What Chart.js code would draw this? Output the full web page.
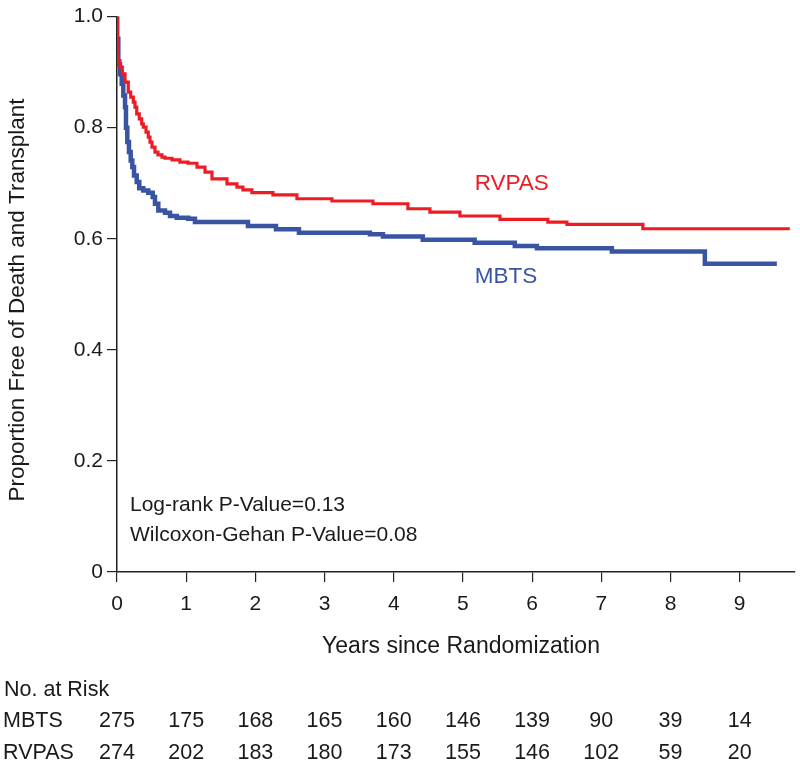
<!DOCTYPE html>
<html>
<head>
<meta charset="utf-8">
<script src="https://cdn.jsdelivr.net/npm/chart.js@4.4.1/dist/chart.umd.min.js"></script>
<style>
  body { margin: 0; background: #fff; }
  #wrap { width: 800px; height: 767px; }
</style>
</head>
<body>
<div id="wrap"><canvas id="km" width="800" height="767"></canvas></div>
<script>
// Kaplan-Meier estimates (time in years, proportion free)
const rvpasTime = [0, 0.004, 0.043, 0.077, 0.116, 0.163, 0.198, 0.236, 0.26, 0.285, 0.322, 0.357, 0.38, 0.419, 0.452, 0.477, 0.506, 0.549, 0.592, 0.65, 0.694, 0.795, 0.91, 1.026, 1.156, 1.272, 1.373, 1.59, 1.734, 1.82, 1.95, 2.254, 2.601, 3.107, 3.70, 4.205, 4.523, 4.957, 5.535, 6.228, 6.503, 7.601, 9.725];
const rvpasSurv = [1.0, 0.921, 0.909, 0.897, 0.882, 0.864, 0.855, 0.846, 0.837, 0.825, 0.816, 0.807, 0.801, 0.792, 0.783, 0.774, 0.765, 0.756, 0.751, 0.747, 0.745, 0.742, 0.738, 0.736, 0.729, 0.72, 0.708, 0.699, 0.693, 0.688, 0.683, 0.679, 0.672, 0.668, 0.663, 0.654, 0.648, 0.641, 0.635, 0.630, 0.626, 0.618, 0.618];

const mbtsTime = [0, 0.003, 0.019, 0.043, 0.068, 0.091, 0.116, 0.13, 0.149, 0.173, 0.198, 0.221, 0.246, 0.285, 0.322, 0.38, 0.452, 0.516, 0.549, 0.597, 0.694, 0.766, 0.863, 1.03, 1.127, 1.893, 2.298, 2.63, 3.656, 3.844, 4.42, 5.17, 5.75, 6.069, 7.153, 8.497, 9.538];
const mbtsSurv = [1.0, 0.96, 0.914, 0.896, 0.879, 0.858, 0.837, 0.80, 0.774, 0.756, 0.741, 0.729, 0.714, 0.702, 0.691, 0.687, 0.683, 0.675, 0.663, 0.651, 0.647, 0.641, 0.638, 0.636, 0.630, 0.623, 0.617, 0.611, 0.608, 0.604, 0.598, 0.593, 0.587, 0.583, 0.577, 0.555, 0.555];

const xTicks = [0, 1, 2, 3, 4, 5, 6, 7, 8, 9];
const yTicks = [0, 0.2, 0.4, 0.6, 0.8, 1.0];

const riskGroups = ['MBTS', 'RVPAS'];
const mbtsRisk = [275, 175, 168, 165, 160, 146, 139, 90, 39, 14];
const rvpasRisk = [274, 202, 183, 180, 173, 155, 146, 102, 59, 20];

const pValueLines = ['Log-rank P-Value=0.13', 'Wilcoxon-Gehan P-Value=0.08'];

const RED = '#ed1c24';
const BLUE = '#3a54a4';
const INK = '#1a1a1a';
const FONT = '"Liberation Sans", Arial, sans-serif';

function toPoints(ts, ss) {
  return ts.map((t, i) => ({ x: t, y: ss[i] }));
}

// extra text: axis titles, p-values, curve labels, numbers at risk
const annotations = {
  id: 'annotations',
  afterDraw(chart) {
    const { ctx, chartArea, scales } = chart;
    const xs = scales.x, ys = scales.y;
    ctx.save();
    ctx.fillStyle = INK;
    ctx.textBaseline = 'middle';

    // y title
    ctx.save();
    ctx.translate(18, 300);
    ctx.rotate(-Math.PI / 2);
    ctx.textAlign = 'center';
    ctx.font = '22.5px ' + FONT;
    ctx.fillText('Proportion Free of Death and Transplant', 0, 0);
    ctx.restore();

    // x title
    ctx.textAlign = 'center';
    ctx.font = '23px ' + FONT;
    ctx.fillText('Years since Randomization', 461, 647);

    // p-values
    ctx.textAlign = 'left';
    ctx.font = '21px ' + FONT;
    pValueLines.forEach((s, i) => ctx.fillText(s, chartArea.left + 13, 505 + i * 30));

    // curve labels
    ctx.font = '22.5px ' + FONT;
    ctx.fillStyle = RED;
    ctx.fillText('RVPAS', xs.getPixelForValue(5.17), ys.getPixelForValue(0.699));
    ctx.fillStyle = BLUE;
    ctx.fillText('MBTS', xs.getPixelForValue(5.17), ys.getPixelForValue(0.532));

    // risk table
    ctx.fillStyle = INK;
    ctx.font = '21.5px ' + FONT;
    ctx.fillText('No. at Risk', 4, 690);
    [mbtsRisk, rvpasRisk].forEach((row, r) => {
      const y = 721 + r * 32;
      ctx.textAlign = 'left';
      ctx.fillText(riskGroups[r], 3, y);
      ctx.textAlign = 'center';
      row.forEach((n, i) => ctx.fillText(String(n), xs.getPixelForValue(xTicks[i]), y));
    });
    ctx.restore();
  }
};

new Chart(document.getElementById('km'), {
  type: 'line',
  data: {
    datasets: [{
      label: 'RVPAS',
      data: toPoints(rvpasTime, rvpasSurv),
      borderColor: RED,
      borderWidth: 3.2,
      stepped: true,
      pointRadius: 0
    }, {
      label: 'MBTS',
      data: toPoints(mbtsTime, mbtsSurv),
      borderColor: BLUE,
      borderWidth: 4.5,
      stepped: true,
      pointRadius: 0
    }]
  },
  options: {
    responsive: false,
    animation: false,
    layout: { padding: { left: 0, top: 14, right: 5, bottom: 0 } },
    plugins: { legend: { display: false }, tooltip: { enabled: false } },
    scales: {
      x: {
        type: 'linear',
        min: 0,
        max: 9.8,
        afterBuildTicks: s => { s.ticks = xTicks.map(v => ({ value: v })); },
        afterFit: s => { s.height = 195; },
        grid: { drawOnChartArea: false, drawTicks: true, tickLength: 10, color: '#222', lineWidth: 1.2 },
        border: { display: true, color: '#222', width: 1.5 },
        ticks: { color: INK, padding: 10, maxRotation: 0, font: { size: 21, family: FONT } }
      },
      y: {
        type: 'linear',
        min: 0,
        max: 1,
        afterBuildTicks: s => { s.ticks = yTicks.map(v => ({ value: v })); },
        afterFit: s => { s.width = 117; },
        grid: { drawOnChartArea: false, drawTicks: true, tickLength: 10, color: '#222', lineWidth: 1.2 },
        border: { display: true, color: '#222', width: 1.5 },
        ticks: {
          color: INK,
          padding: 4,
          font: { size: 21, family: FONT },
          callback: v => v === 0 ? '0' : v.toFixed(1)
        }
      }
    }
  },
  plugins: [annotations]
});
</script>
</body>
</html>
